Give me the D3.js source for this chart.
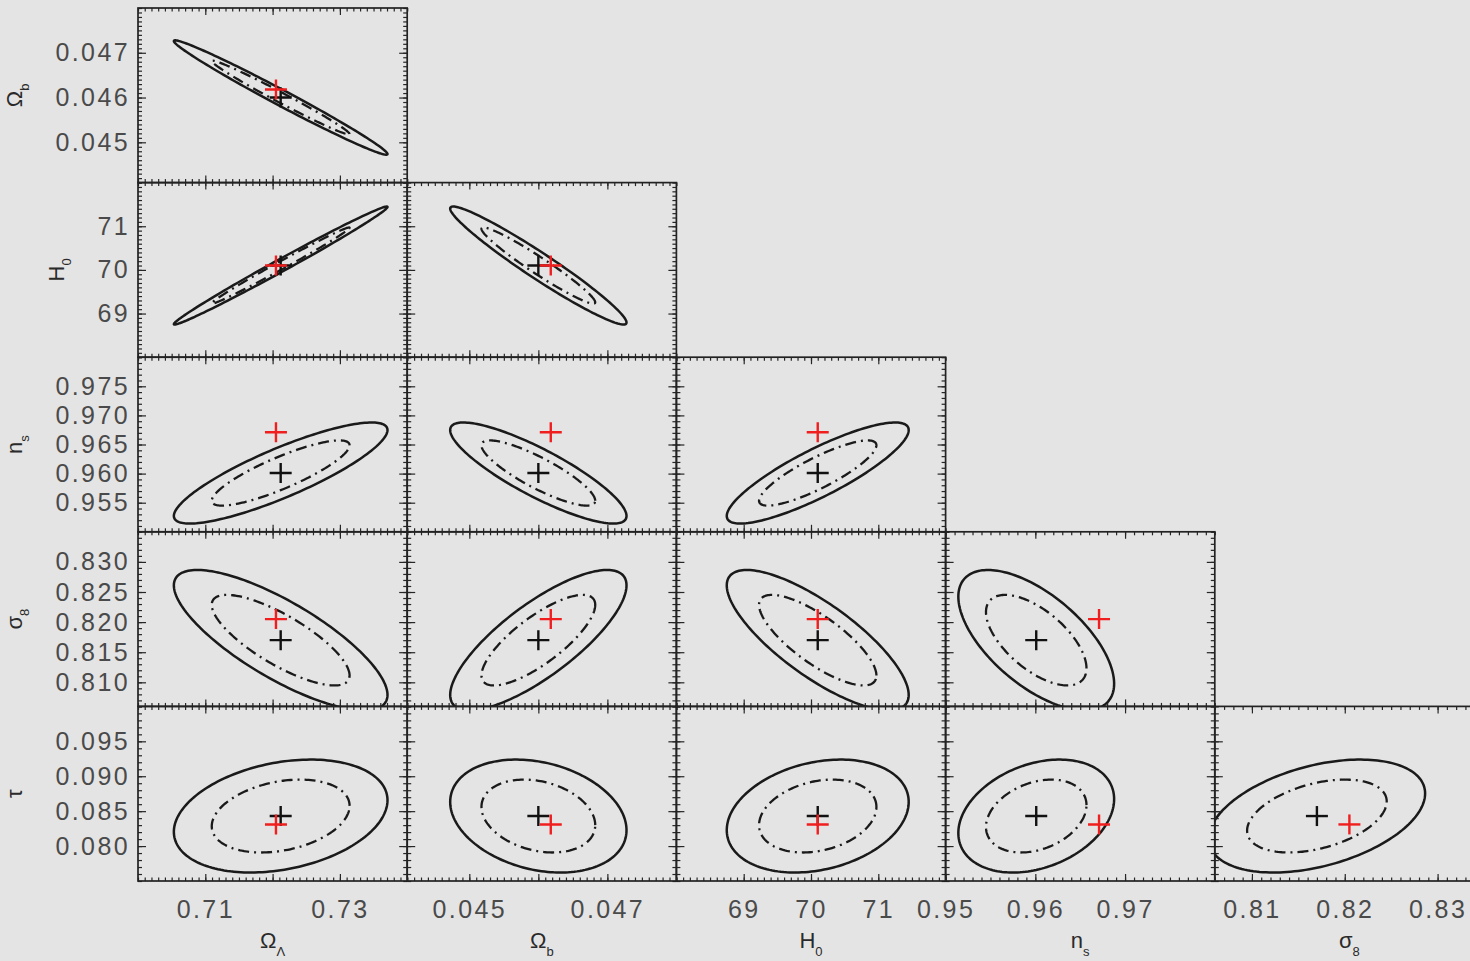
<!DOCTYPE html>
<html><head><meta charset="utf-8">
<script src="https://cdn.jsdelivr.net/npm/d3@7"></script>
<style>
html,body{margin:0;padding:0;background:#e4e4e4;}
svg{display:block;}
</style></head><body>
<svg id="chart" width="1470" height="961"></svg>
<script>
// ---------------- data ----------------
const paramBase = ["Ω", "Ω", "H", "n", "σ", "τ"];
const paramSub  = ["Λ", "b", "0", "s", "8", ""];
// axis ranges
const axisMin = [0.700, 0.0441, 68, 0.950, 0.806, 0.075];
const axisMax = [0.740, 0.0480, 72, 0.980, 0.835, 0.100];
// best fit (black +) and fiducial (red +)
const bestFit  = [0.7212, 0.04600, 70.10, 0.9601, 0.8170, 0.0843];
const fiducial = [0.7205, 0.04618, 70.10, 0.9671, 0.8205, 0.0831];
// marginal 1-sigma errors
const sigma = [0.0064, 0.000515, 0.545, 0.0035, 0.0047, 0.00326];
// correlation coefficients rho[i][j]
const rho = [
  [ 1.000, -0.988,  0.993,  0.850, -0.780,  0.280],
  [-0.988,  1.000, -0.965, -0.850,  0.780, -0.250],
  [ 0.993, -0.965,  1.000,  0.850, -0.780,  0.250],
  [ 0.850, -0.850,  0.850,  1.000, -0.620,  0.300],
  [-0.780,  0.780, -0.780, -0.620,  1.000,  0.400],
  [ 0.280, -0.250,  0.250,  0.300,  0.400,  1.000]
];
// contour radii (in sigma units): inner (dash-dot), outer (solid)
const contourRadii = [1.60, 2.48];
// tick labels (x axis: columns 0..4, y axis: rows params 1..5)
const xTickLabels = [["0.71","0.73"], ["0.045","0.047"], ["69","70","71"], ["0.95","0.96","0.97"], ["0.81","0.82","0.83"]];
const xMajorTicks = [[0.71,0.72,0.73], [0.045,0.046,0.047], [69,70,71], [0.95,0.96,0.97], [0.81,0.82,0.83]];
const yTickLabels = [null, ["0.045","0.046","0.047"], ["69","70","71"],
  ["0.955","0.960","0.965","0.970","0.975"], ["0.810","0.815","0.820","0.825","0.830"],
  ["0.080","0.085","0.090","0.095"]];
const minorStep = [0.001, 0.0001, 0.1, 0.001, 0.001, 0.001];

// ---------------- layout ----------------
const gridLeft = 138, gridTop = 8, pw = 269.2, ph = 174.6;
const lineCol = "#1a1a1a", textCol = "#4a4a4a", red = "#f01e1e";
const font = "'Liberation Sans', Arial, sans-serif";

const svg = d3.select("#chart");
svg.append("rect").attr("width",1470).attr("height",961).attr("fill","#e4e4e4");
const defs = svg.append("defs");

const xs = axisMin.map((m,i) => d3.scaleLinear().domain([m, axisMax[i]]).range([0, pw]));
const ys = axisMin.map((m,i) => d3.scaleLinear().domain([m, axisMax[i]]).range([ph, 0]));

function minorTicks(i){
  const s = minorStep[i];
  return d3.range(Math.ceil(axisMin[i]/s - 1e-9), Math.floor(axisMax[i]/s + 1e-9) + 1).map(k => +(k*s).toFixed(6));
}

function ellipsePts(i, j, k){
  const r = rho[i][j], sx = sigma[i], sy = sigma[j];
  return d3.range(0, 360, 2).map(a => {
    const t = a*Math.PI/180;
    return [bestFit[i] + k*sx*Math.cos(t),
            bestFit[j] + k*sy*(r*Math.cos(t) + Math.sqrt(1-r*r)*Math.sin(t))];
  });
}

function styleTicks(g){
  g.select(".domain").remove();
  g.selectAll("line").attr("stroke", "#262626").attr("stroke-width", 1.2);
}

function cross(g, x, y, col){
  g.append("line").attr("x1", x-11).attr("x2", x+11).attr("y1", y).attr("y2", y)
    .attr("stroke", col).attr("stroke-width", 2.4);
  g.append("line").attr("x1", x).attr("x2", x).attr("y1", y-10).attr("y2", y+10)
    .attr("stroke", col).attr("stroke-width", 2.4);
}

for (let r = 0; r < 5; r++){
  const j = r + 1; // y param
  for (let c = 0; c <= r; c++){
    const i = c; // x param
    const X = xs[i], Y = ys[j];
    const g = svg.append("g").attr("transform", `translate(${gridLeft + c*pw},${gridTop + r*ph})`);
    const cid = `clip-${r}-${c}`;
    defs.append("clipPath").attr("id", cid).append("rect").attr("width", pw).attr("height", ph);
    const inner = g.append("g").attr("clip-path", `url(#${cid})`);
    const line = d3.line().x(d => X(d[0])).y(d => Y(d[1])).curve(d3.curveLinearClosed);
    inner.append("path").attr("d", line(ellipsePts(i, j, contourRadii[1])))
      .attr("fill", "none").attr("stroke", lineCol).attr("stroke-width", 2.5);
    inner.append("path").attr("d", line(ellipsePts(i, j, contourRadii[0])))
      .attr("fill", "none").attr("stroke", lineCol).attr("stroke-width", 2.3)
      .attr("stroke-dasharray", "11,5,2,5");
    cross(inner, X(bestFit[i]), Y(bestFit[j]), "#111");
    cross(inner, X(fiducial[i]), Y(fiducial[j]), red);

    const xmin = minorTicks(i), ymin = minorTicks(j);
    const ymaj = yTickLabels[j].map(Number);
    g.append("g").attr("transform", `translate(0,${ph})`)
      .call(d3.axisBottom(X).tickValues(xMajorTicks[i]).tickSize(-7).tickFormat("")).call(styleTicks);
    g.append("g").attr("transform", `translate(0,${ph})`)
      .call(d3.axisBottom(X).tickValues(xmin).tickSize(-3.5).tickFormat("")).call(styleTicks);
    g.append("g")
      .call(d3.axisTop(X).tickValues(xMajorTicks[i]).tickSize(-7).tickFormat("")).call(styleTicks);
    g.append("g")
      .call(d3.axisTop(X).tickValues(xmin).tickSize(-3.5).tickFormat("")).call(styleTicks);
    g.append("g")
      .call(d3.axisLeft(Y).tickValues(ymaj).tickSize(-8).tickFormat("")).call(styleTicks);
    g.append("g")
      .call(d3.axisLeft(Y).tickValues(ymin).tickSize(-4).tickFormat("")).call(styleTicks);
    g.append("g").attr("transform", `translate(${pw},0)`)
      .call(d3.axisRight(Y).tickValues(ymaj).tickSize(-8).tickFormat("")).call(styleTicks);
    g.append("g").attr("transform", `translate(${pw},0)`)
      .call(d3.axisRight(Y).tickValues(ymin).tickSize(-4).tickFormat("")).call(styleTicks);

    g.append("rect").attr("width", pw).attr("height", ph)
      .attr("fill", "none").attr("stroke", "#222").attr("stroke-width", 1.7);

    if (c === 0){
      const labs = yTickLabels[j];
      const ay = g.append("g")
        .call(d3.axisLeft(Y).tickValues(labs.map(Number)).tickSize(0).tickPadding(8)
          .tickFormat((d, k) => labs[k]));
      ay.select(".domain").remove();
      ay.attr("font-family", font).attr("font-size", 25);
      ay.selectAll("text").attr("fill", textCol).attr("letter-spacing", "2.4px");
      const bb = ay.node().getBBox();
      const tx = bb.x - 33;
      const t = g.append("text").attr("transform", `translate(${tx},${ph/2}) rotate(-90)`)
        .attr("text-anchor", "middle").attr("font-family", font).attr("font-size", 22)
        .attr("fill", "#2a2a2a");
      t.append("tspan").text(paramBase[j]);
      if (paramSub[j]) t.append("tspan").attr("font-size", 13).attr("dy", 7).text(paramSub[j]);
    }
    if (r === 4){
      const labs = xTickLabels[i];
      const ax = g.append("g").attr("transform", `translate(0,${ph})`)
        .call(d3.axisBottom(X).tickValues(labs.map(Number)).tickSize(0).tickPadding(19)
          .tickFormat((d, k) => labs[k]));
      ax.select(".domain").remove();
      ax.attr("font-family", font).attr("font-size", 25);
      ax.selectAll("text").attr("fill", textCol).attr("letter-spacing", "2.4px");
      const t = g.append("text").attr("x", pw/2).attr("y", ph + 67)
        .attr("text-anchor", "middle").attr("font-family", font).attr("font-size", 22)
        .attr("fill", "#2a2a2a");
      t.append("tspan").text(paramBase[i]);
      if (paramSub[i]) t.append("tspan").attr("font-size", 13).attr("dy", 8).text(paramSub[i]);
    }
  }
}
</script>
</body></html>
